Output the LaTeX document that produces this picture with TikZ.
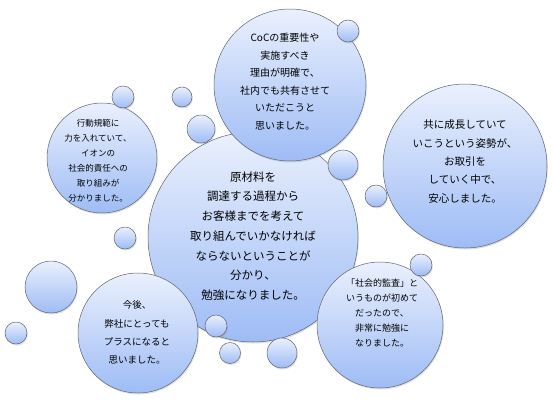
\documentclass[tikz,border=0pt]{standalone}
\usepackage{fontspec}
\newfontfamily\jp{Noto Sans CJK JP}
\usetikzlibrary{shadows}
\definecolor{bubtop}{RGB}{234,240,253}
\definecolor{bubbot}{RGB}{158,188,245}
\definecolor{bubline}{RGB}{95,100,110}
\tikzset{
  bub/.style={circle, inner sep=0pt, minimum size=#1, draw=bubline, line width=0.5pt,
    top color=bubtop, bottom color=bubbot,
    drop shadow={opacity=0.25, shadow xshift=0.8pt, shadow yshift=-1.5pt}},
  txt/.style={align=center, inner sep=0pt, text=black}
}
\begin{document}
\begin{tikzpicture}[x=1pt,y=-1pt]
\useasboundingbox (0,0) rectangle (553,402);
% big circles
\node[bub=210] (cen) at (253,237) {};
\node[bub=152] (coc) at (290,85) {};
\node[bub=110] (lft) at (102,158) {};
\node[bub=164] (rgt) at (465,166) {};
\node[bub=120] (kon) at (138,333) {};
\node[bub=126] (kan) at (380,325) {};
% small circles
\node[bub=22] (s1) at (348,31) {};
\node[bub=22] (s2) at (123,97) {};
\node[bub=20] (s0) at (182,97) {};
\node[bub=28] (s3) at (201,129) {};
\node[bub=30] (s4) at (343,165) {};
\node[bub=22] (s5) at (376,196) {};
\node[bub=22] (s6) at (125,238) {};
\node[bub=52] (s7) at (51,287) {};
\node[bub=22] (s8) at (16,333) {};
\node[bub=22] (s9) at (216,326) {};
\node[bub=21] (s10) at (230,353) {};
\node[bub=30] (s11) at (282,353) {};
\node[bub=22] (s12) at (421,265) {};
% texts
\node[txt, font=\jp\fontsize{11.5}{19.7}\selectfont] (tcen) at (253,236)
  {原材料を\\調達する過程から\\お客様までを考えて\\取り組んでいかなければ\\ならないということが\\分かり、\\勉強になりました。};
\node[txt, font=\jp\fontsize{10}{17.5}\selectfont] (tcoc) at (285,81.5)
  {CoCの重要性や\\実施すべき\\理由が明確で、\\社内でも共有させて\\いただこうと\\思いました。};
\node[txt, font=\jp\fontsize{8.5}{15}\selectfont] (tlft) at (98,160.5)
  {行動規範に\\力を入れていて、\\イオンの\\社会的責任への\\取り組みが\\分かりました。};
\node[txt, font=\jp\fontsize{10.5}{18.3}\selectfont] (trgt) at (465,161.5)
  {共に成長していて\\いこうという姿勢が、\\お取引を\\していく中で、\\安心しました。};
\node[txt, font=\jp\fontsize{9.5}{18.3}\selectfont] (tkon) at (137,332.5)
  {今後、\\弊社にとっても\\プラスになると\\思いました。};
\node[txt, font=\jp\fontsize{9}{15}\selectfont] (tkan) at (382,313)
  {「社会的監査」と\\いうものが初めて\\だったので、\\非常に勉強に\\なりました。};
\end{tikzpicture}
\end{document}
